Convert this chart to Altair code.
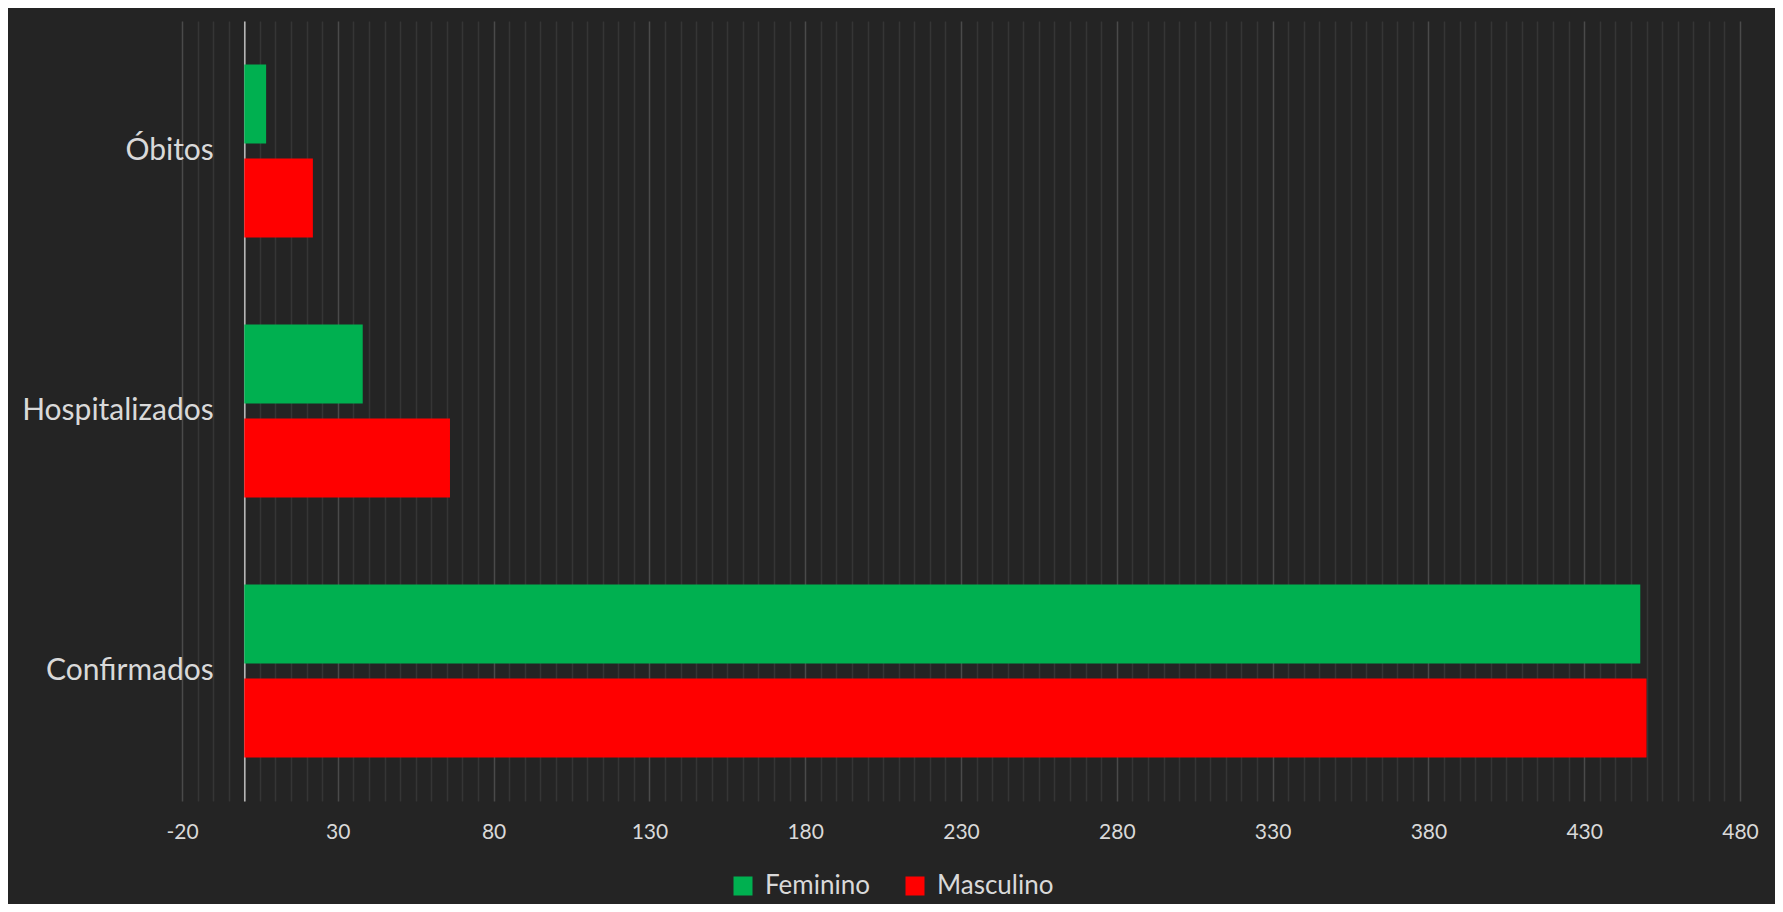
import altair as alt
import pandas as pd

categories = ["Óbitos", "Hospitalizados", "Confirmados"]
series = ["Feminino", "Masculino"]
feminino = [7, 38, 448]
masculino = [22, 66, 450]
colors = ["#00B050", "#FF0000"]
x_ticks = list(range(-20, 481, 5))

rows = []
for c, f, m in zip(categories, feminino, masculino):
    rows.append({"categoria": c, "sexo": "Feminino", "valor": f})
    rows.append({"categoria": c, "sexo": "Masculino", "valor": m})
df = pd.DataFrame(rows)

W, H = 1558, 780
px_per_unit = W / 500.0
text_color = "#d9d9d9"

chart = alt.Chart(df).mark_bar().encode(
    x=alt.X(
        "valor:Q",
        scale=alt.Scale(domain=[-20, 480], nice=False, zero=False),
        axis=alt.Axis(
            values=x_ticks,
            grid=True,
            gridColor={"condition": {"test": "(datum.value + 20) % 50 === 0", "value": "#4a4a4a"}, "value": "#353535"},
            gridWidth=1.5,
            labelExpr="(datum.value + 20) % 50 === 0 ? ('' + datum.value) : ''",
            labelOverlap=False,
            labelFlush=False,
            ticks=False,
            tickSize=0,
            domain=False,
            labelFontSize=21,
            labelColor=text_color,
            labelPadding=20,
            title=None,
        ),
    ),
    y=alt.Y(
        "categoria:N",
        sort=categories,
        scale=alt.Scale(paddingInner=0.335, paddingOuter=0.1675),
        axis=alt.Axis(
            offset=-20 * px_per_unit,
            ticks=False,
            tickSize=0,
            domain=True,
            domainColor="#bfbfbf",
            domainWidth=1.5,
            grid=False,
            labelFontSize=30,
            labelColor=text_color,
            labelPadding=31,
            labelLimit=400,
            title=None,
        ),
    ),
    yOffset=alt.YOffset(
        "sexo:N",
        sort=series,
        scale=alt.Scale(paddingInner=0.16, paddingOuter=0),
    ),
    color=alt.Color(
        "sexo:N",
        sort=series,
        scale=alt.Scale(domain=series, range=colors),
        legend=alt.Legend(
            orient="none",
            legendX=548,
            legendY=852,
            direction="horizontal",
            title=None,
            symbolType="square",
            symbolSize=361,
            symbolStrokeWidth=0,
            labelFontSize=26,
            labelColor=text_color,
            columnPadding=32,
            labelOffset=9,
        ),
    ),
).properties(
    width=W,
    height=H,
    autosize=alt.AutoSizeParams(type="none"),
    padding={"left": 174, "top": 13, "right": 35, "bottom": 103},
    background="#242424",
).configure(
    font="Lato",
).configure_view(
    stroke=None,
    fill="#242424",
)

chart.save("out.html", embed_options={"renderer": "svg", "actions": False})
